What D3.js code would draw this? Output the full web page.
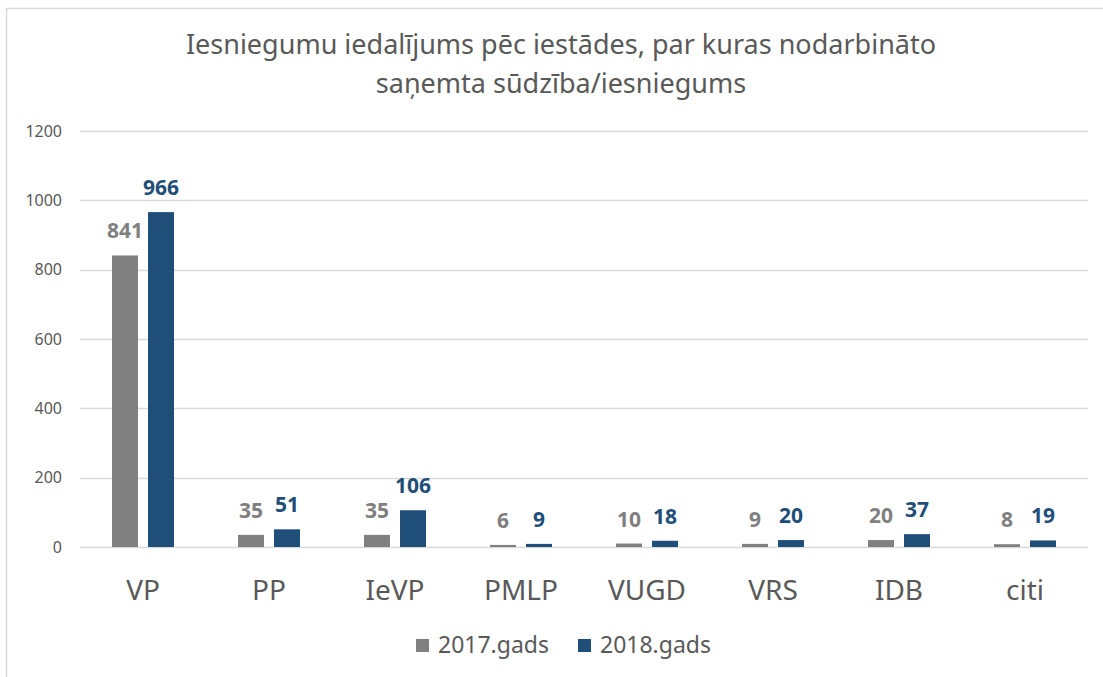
<!DOCTYPE html>
<html>
<head>
<meta charset="utf-8">
<script src="https://cdn.jsdelivr.net/npm/d3@7"></script>
<style>
    body { margin: 0; background: #fff; }
    svg { display: block; font-family: "Noto Sans", sans-serif; }
</style>
</head>
<body>
<div id="chart"></div>
<script>
// datos del grafico
const categories = ['VP', 'PP', 'IeVP', 'PMLP', 'VUGD', 'VRS', 'IDB', 'citi'];
const seriesNames = ['2017.gads', '2018.gads'];
const values2017 = [841, 35, 35, 6, 10, 9, 20, 8];
const values2018 = [966, 51, 106, 9, 18, 20, 37, 19];
const yTicks = [0, 200, 400, 600, 800, 1000, 1200];
const titleLines = ['Iesniegumu iedalījums pēc iestādes, par kuras nodarbināto', 'saņemta sūdzība/iesniegums'];

const colors = ['#808080', '#1f4e79'];
const labelColors = ['#7f7f7f', '#1f4e79'];

let width = 1103;
let height = 677;

let svg = d3.select('#chart').append('svg')
    .attr('width', width)
    .attr('height', height);

// marco
svg.append('path')
    .attr('d', 'M6.5,' + height + 'V8.5H' + width)
    .attr('fill', 'none')
    .attr('stroke', '#d9d9d9')
    .attr('stroke-width', 1.5);

// titulo
svg.append('text')
    .attr('x', 561)
    .attr('y', 54)
    .attr('text-anchor', 'middle')
    .style('font-size', '27px')
    .style('fill', '#595959')
    .selectAll('tspan')
    .data(titleLines)
    .join('tspan')
    .attr('x', 561)
    .attr('dy', (d, i) => i === 0 ? 0 : 39)
    .text(d => d);

let x0 = d3.scaleBand()
    .domain(categories)
    .range([80, 1088]);

let x1 = d3.scaleBand()
    .domain([0, 1])
    .range([32, 94])
    .paddingInner(0.278);

let y = d3.scaleLinear()
    .domain([0, 1200])
    .range([547, 131]);

// lineas de la cuadricula
svg.append('g')
    .selectAll('line')
    .data(yTicks)
    .join('line')
    .attr('x1', 80)
    .attr('x2', 1088)
    .attr('y1', d => Math.round(y(d)) + 0.5)
    .attr('y2', d => Math.round(y(d)) + 0.5)
    .attr('stroke', '#d9d9d9')
    .attr('stroke-width', 1.5);

// eje y
svg.append('g')
    .selectAll('text')
    .data(yTicks)
    .join('text')
    .attr('x', 62)
    .attr('y', d => y(d))
    .attr('dy', '0.35em')
    .attr('text-anchor', 'end')
    .style('font-size', '16px')
    .style('fill', '#595959')
    .text(d => d);

// barras
let series = [values2017, values2018];
let groups = svg.append('g')
    .selectAll('g')
    .data(categories)
    .join('g')
    .attr('transform', d => 'translate(' + x0(d) + ',0)');

groups.selectAll('rect')
    .data((d, i) => series.map((s, k) => ({ k: k, v: s[i] })))
    .join('rect')
    .attr('x', d => x1(d.k))
    .attr('width', x1.bandwidth())
    .attr('y', d => y(d.v))
    .attr('height', d => y(0) - y(d.v))
    .attr('fill', d => colors[d.k]);

groups.selectAll('text.lbl')
    .data((d, i) => series.map((s, k) => ({ k: k, v: s[i] })))
    .join('text')
    .attr('class', 'lbl')
    .attr('x', d => x1(d.k) + x1.bandwidth() / 2)
    .attr('y', d => y(d.v) - 17)
    .attr('text-anchor', 'middle')
    .style('font-size', '21px')
    .style('font-weight', 'bold')
    .style('fill', d => labelColors[d.k])
    .text(d => d.v);

// etiquetas de categorias
svg.append('g')
    .selectAll('text')
    .data(categories)
    .join('text')
    .attr('x', d => x0(d) + x0.bandwidth() / 2)
    .attr('y', 600)
    .attr('text-anchor', 'middle')
    .style('font-size', '28px')
    .style('fill', '#595959')
    .text(d => d);

// leyenda
let legendX = [416, 578];
let legend = svg.append('g')
    .selectAll('g')
    .data(seriesNames)
    .join('g')
    .attr('transform', (d, i) => 'translate(' + legendX[i] + ',639)');

legend.append('rect')
    .attr('width', 13)
    .attr('height', 13)
    .attr('fill', (d, i) => colors[i]);

legend.append('text')
    .attr('x', 22)
    .attr('y', 14)
    .style('font-size', '23px')
    .style('fill', '#595959')
    .text(d => d);
</script>
</body>
</html>
